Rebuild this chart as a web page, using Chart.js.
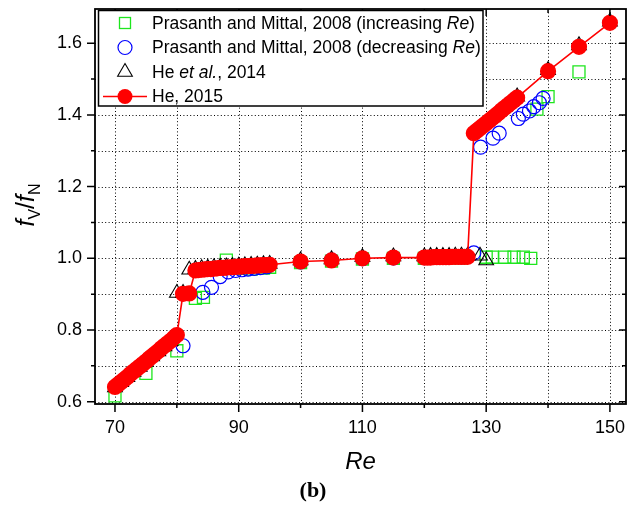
<!DOCTYPE html>
<html>
<head>
<meta charset="utf-8">
<script src="https://cdn.jsdelivr.net/npm/chart.js@4.4.0/dist/chart.umd.min.js"></script>
<style>
  html, body { margin: 0; padding: 0; background: #fff; }
  #wrap { width: 629px; height: 510px; }
</style>
</head>
<body>
<div id="wrap"><canvas id="c" width="629" height="510"></canvas></div>
<script>
// Prasanth and Mittal, 2008 - increasing Re branch
const reInc = [70, 75, 80, 83, 84.3, 88, 90, 92, 94, 95, 100, 105, 110, 115, 120, 122, 124, 126,
               130, 131, 133, 134.5, 136, 137.2, 138.2, 140, 145];
const fInc  = [0.616, 0.679, 0.742, 0.888, 0.891, 0.995, 0.972, 0.970, 0.973, 0.975, 0.988, 0.992, 0.998, 1.000,
               1.000, 1.001, 1.001, 1.001, 1.003, 1.003, 1.003, 1.003, 1.003, 1.000, 1.416, 1.451, 1.520];

// Prasanth and Mittal, 2008 - decreasing Re branch
const reDec = [81, 84.2, 85.6, 87, 88.3, 89.5, 90.5, 91.5, 92.5, 93.5, 94.5, 100, 105, 110, 115, 120, 122, 124,
               126, 128, 129.1, 131.1, 132.1, 135.2, 136, 137, 137.7, 138.6, 139.2];
const fDec  = [0.756, 0.905, 0.919, 0.949, 0.962, 0.966, 0.968, 0.970, 0.972, 0.974, 0.976, 0.990, 0.995, 0.999,
               1.001, 1.002, 1.003, 1.003, 1.004, 1.015, 1.310, 1.335, 1.349, 1.390, 1.402, 1.411, 1.423, 1.434, 1.446];

// He et al., 2014
const reHe14 = [70, 71, 72, 73, 74, 75, 76, 77, 78, 79, 80, 81, 82, 83, 84, 85, 86, 87, 88, 89, 90, 91, 92, 93, 94, 95,
                100, 105, 110, 115, 120, 121, 122, 123, 124, 125, 126, 127, 129, 130, 131, 132, 133, 134, 135, 140, 145, 150];
const fHe14  = [0.640, 0.654, 0.668, 0.683, 0.697, 0.711, 0.726, 0.740, 0.754, 0.769, 0.903, 0.903, 0.968,
                0.970, 0.972, 0.973, 0.975, 0.976, 0.977, 0.978, 0.979, 0.980, 0.981, 0.982, 0.983, 0.984,
                0.994, 0.997, 1.003, 1.005, 1.005, 1.006, 1.006, 1.006, 1.006, 1.007, 1.007, 1.007, 1.007, 0.994,
                1.393, 1.408, 1.422, 1.436, 1.451, 1.525, 1.594, 1.660];

// He, 2015
const reHe15 = [70, 70.5, 71, 71.5, 72, 72.5, 73, 73.5, 74, 74.5, 75, 75.5, 76, 76.5, 77, 77.5, 78, 78.5, 79, 79.5, 80,
                81, 82,
                83, 83.5, 84, 84.5, 85, 85.5, 86, 86.5, 87, 87.5, 88, 88.5, 89, 89.5, 90, 90.5, 91, 91.5, 92, 92.5, 93, 93.5, 94, 94.5, 95,
                100, 105, 110, 115,
                120, 120.5, 121, 121.5, 122, 122.5, 123, 123.5, 124, 124.5, 125, 125.5, 126, 126.5, 127,
                128, 128.5, 129, 129.5, 130, 130.5, 131, 131.5, 132, 132.5, 133, 133.5, 134, 134.5, 135,
                140, 145, 150];
const fHe15  = [0.641, 0.648, 0.655, 0.662, 0.669, 0.677, 0.684, 0.691, 0.698, 0.705, 0.712, 0.720, 0.727, 0.734, 0.741, 0.749, 0.756, 0.763, 0.770, 0.778, 0.786,
                0.901, 0.902,
                0.966, 0.967, 0.968, 0.969, 0.970, 0.970, 0.971, 0.972, 0.973, 0.973, 0.974, 0.975, 0.975, 0.976, 0.977, 0.977, 0.978, 0.978, 0.979, 0.979, 0.980, 0.980, 0.981, 0.981, 0.982,
                0.991, 0.994, 1.000, 1.002,
                1.002, 1.002, 1.002, 1.003, 1.003, 1.003, 1.003, 1.003, 1.003, 1.004, 1.004, 1.004, 1.004, 1.004, 1.004,
                1.349, 1.356, 1.363, 1.370, 1.377, 1.384, 1.391, 1.398, 1.405, 1.413, 1.420, 1.427, 1.434, 1.441, 1.448,
                1.522, 1.590, 1.657];

// Axis ticks and grid
const xTickLabels = [70, 90, 110, 130, 150];
const xGridValues = [70, 80, 90, 100, 110, 120, 130, 140, 150];
const yTickLabels = [0.6, 0.8, 1.0, 1.2, 1.4, 1.6];
const yGridValues = [0.6, 0.7, 0.8, 0.9, 1.0, 1.1, 1.2, 1.3, 1.4, 1.5, 1.6];

// Legend entries (segments with italic flags)
const legendLabels = [
  [['Prasanth and Mittal, 2008 (increasing ', false], ['Re', true], [')', false]],
  [['Prasanth and Mittal, 2008 (decreasing ', false], ['Re', true], [')', false]],
  [['He ', false], ['et al.', true], [', 2014', false]],
  [['He, 2015', false]]
];

const FONT = '"Liberation Sans", Arial, Helvetica, sans-serif';
const GREEN = '#1ee61e', BLUE = '#0000ff', BLACK = '#000000', RED = '#ff0000';

const pts = (xs, ys) => xs.map((v, i) => ({ x: v, y: ys[i] }));

// Draws a sequence of text segments, returns total width
function richText(ctx, parts, x, y, measureOnly) {
  let cx = x;
  for (const p of parts) {
    ctx.font = `${p.italic ? 'italic ' : ''}${p.size}px ${FONT}`;
    if (!measureOnly) ctx.fillText(p.t, cx, y + (p.dy || 0));
    cx += ctx.measureText(p.t).width;
  }
  return cx - x;
}

function marker(ctx, style, x, y) {
  ctx.save();
  ctx.setLineDash([]);
  if (style === 'square') {
    ctx.strokeStyle = GREEN; ctx.lineWidth = 1.3;
    ctx.strokeRect(x - 5.5, y - 5.5, 11, 11);
  } else if (style === 'circle') {
    ctx.strokeStyle = BLUE; ctx.lineWidth = 1.2;
    ctx.beginPath(); ctx.arc(x, y, 7, 0, Math.PI * 2); ctx.stroke();
  } else if (style === 'triangle') {
    const r = 8.5;
    ctx.strokeStyle = BLACK; ctx.lineWidth = 1.1;
    ctx.beginPath();
    for (let k = 0; k < 3; k++) {
      const a = k * 2 * Math.PI / 3;
      const px = x + Math.sin(a) * r, py = y - Math.cos(a) * r;
      k ? ctx.lineTo(px, py) : ctx.moveTo(px, py);
    }
    ctx.closePath(); ctx.stroke();
  } else if (style === 'line') {
    ctx.strokeStyle = RED; ctx.lineWidth = 1.6;
    ctx.beginPath(); ctx.moveTo(x - 22, y); ctx.lineTo(x + 22, y); ctx.stroke();
    ctx.fillStyle = RED;
    ctx.beginPath(); ctx.arc(x, y, 7.5, 0, Math.PI * 2); ctx.fill();
  }
  ctx.restore();
}

// Fixes a scale's box size and drops the label-overflow padding
function fixBox(s, w, h) {
  if (w !== null) s.width = w;
  if (h !== null) s.height = h;
  s.paddingLeft = 0; s.paddingRight = 0; s.paddingTop = 0; s.paddingBottom = 0;
}

// Dotted grid, plot frame with ticks, y-axis title and the boxed legend
const decorations = {
  id: 'decorations',
  beforeDatasetsDraw(chart) {
    const { ctx, chartArea: a, scales: { x, y } } = chart;
    ctx.save();
    ctx.strokeStyle = '#000';
    ctx.lineWidth = 1;
    ctx.setLineDash([1, 2.4]);
    for (const v of xGridValues) {
      const px = Math.round(x.getPixelForValue(v)) + 0.5;
      ctx.beginPath(); ctx.moveTo(px, a.top); ctx.lineTo(px, a.bottom); ctx.stroke();
    }
    for (const v of yGridValues) {
      const py = Math.round(y.getPixelForValue(v)) + 0.5;
      ctx.beginPath(); ctx.moveTo(a.left, py); ctx.lineTo(a.right, py); ctx.stroke();
    }
    ctx.restore();
  },
  afterDatasetsDraw(chart) {
    const { ctx, chartArea: a, scales: { x, y } } = chart;
    ctx.save();
    ctx.setLineDash([]);
    ctx.strokeStyle = '#000';
    ctx.lineWidth = 1.8;
    ctx.strokeRect(a.left, a.top, a.right - a.left, a.bottom - a.top);

    ctx.lineWidth = 1.5;
    ctx.beginPath();
    for (const v of xGridValues) {
      const px = x.getPixelForValue(v);
      const major = xTickLabels.includes(v);
      ctx.moveTo(px, a.bottom); ctx.lineTo(px, a.bottom + (major ? 8 : 4));
      ctx.moveTo(px, a.top); ctx.lineTo(px, a.top + (major ? 7 : 4));
    }
    for (const v of yGridValues) {
      const py = y.getPixelForValue(v);
      const major = yTickLabels.some(t => Math.abs(t - v) < 1e-9);
      ctx.moveTo(a.left, py); ctx.lineTo(a.left - (major ? 8 : 4), py);
      ctx.moveTo(a.right, py); ctx.lineTo(a.right - (major ? 7 : 4), py);
    }
    ctx.stroke();

    // y-axis title: f_V / f_N, rotated
    const titleParts = [
      { t: 'f', italic: true, size: 25 },
      { t: 'V', italic: false, size: 16, dy: 6 },
      { t: '/', italic: false, size: 25 },
      { t: 'f', italic: true, size: 25 },
      { t: 'N', italic: false, size: 16, dy: 6 }
    ];
    ctx.fillStyle = '#000';
    ctx.textBaseline = 'alphabetic';
    ctx.translate(34, 205);
    ctx.rotate(-Math.PI / 2);
    const tw = richText(ctx, titleParts, 0, 0, true);
    richText(ctx, titleParts, -tw / 2, 0, false);
    ctx.restore();

    // legend
    ctx.save();
    const box = { l: 98.5, t: 10.5, r: 483, b: 106 };
    ctx.fillStyle = '#fff';
    ctx.fillRect(box.l, box.t, box.r - box.l, box.b - box.t);
    ctx.strokeStyle = '#000';
    ctx.lineWidth = 1.5;
    ctx.strokeRect(box.l, box.t, box.r - box.l, box.b - box.t);
    const styles = ['square', 'circle', 'triangle', 'line'];
    const rows = [23, 47.5, 72, 96.5];
    ctx.fillStyle = '#000';
    ctx.textBaseline = 'middle';
    legendLabels.forEach((segs, i) => {
      marker(ctx, styles[i], 125, rows[i]);
      ctx.fillStyle = '#000';
      richText(ctx, segs.map(s => ({ t: s[0], italic: s[1], size: 17.5 })), 152, rows[i] + 1, false);
    });
    ctx.restore();
  }
};

new Chart(document.getElementById('c'), {
  type: 'scatter',
  data: {
    datasets: [
      {
        label: 'Prasanth and Mittal, 2008 (increasing Re)',
        data: pts(reInc, fInc),
        pointStyle: 'rect', pointRadius: 8.5, borderColor: GREEN, backgroundColor: 'rgba(0,0,0,0)',
        borderWidth: 1.3, order: 4
      },
      {
        label: 'Prasanth and Mittal, 2008 (decreasing Re)',
        data: pts(reDec, fDec),
        pointStyle: 'circle', pointRadius: 7, borderColor: BLUE, backgroundColor: 'rgba(0,0,0,0)',
        borderWidth: 1.2, order: 3
      },
      {
        label: 'He et al., 2014',
        data: pts(reHe14, fHe14),
        pointStyle: 'triangle', pointRadius: 8.5, borderColor: BLACK, backgroundColor: 'rgba(0,0,0,0)',
        borderWidth: 1.1, order: 2
      },
      {
        label: 'He, 2015',
        data: pts(reHe15, fHe15),
        showLine: true, tension: 0,
        pointStyle: 'circle', pointRadius: 7.3, borderColor: RED, backgroundColor: RED,
        pointBorderColor: RED, pointBackgroundColor: RED,
        borderWidth: 1.6, order: 1
      }
    ]
  },
  options: {
    responsive: false,
    animation: false,
    devicePixelRatio: 1,
    layout: { autoPadding: false, padding: { top: 9, right: 3, left: 0, bottom: 0 } },
    plugins: {
      legend: { display: false },
      tooltip: { enabled: false },
      title: {
        display: true, position: 'bottom', text: '(b)', color: '#000',
        font: { family: '"Liberation Serif", "Times New Roman", serif', size: 22, weight: 'bold', lineHeight: 1.2 },
        padding: { top: 4, bottom: 5 }
      }
    },
    scales: {
      x: {
        type: 'linear', position: 'bottom',
        min: 66.77, max: 152.6,
        afterBuildTicks: s => { s.ticks = xTickLabels.map(v => ({ value: v })); },
        afterFit: s => fixBox(s, null, 106 - 35.4),
        grid: { display: false, drawTicks: false },
        border: { display: false },
        ticks: { color: '#000', font: { family: FONT, size: 18 }, padding: 13, maxRotation: 0, autoSkip: false,
                 callback: v => String(v) },
        title: { display: true, text: 'Re', color: '#000',
                 font: { family: FONT, size: 24, style: 'italic', lineHeight: 1.0 }, padding: { top: 0, bottom: 0 } }
      },
      y: {
        type: 'linear', position: 'left',
        min: 0.5935, max: 1.6955,
        afterBuildTicks: s => { s.ticks = yTickLabels.map(v => ({ value: v })); },
        afterFit: s => fixBox(s, 95, null),
        grid: { display: false, drawTicks: false },
        border: { display: false },
        ticks: { color: '#000', font: { family: FONT, size: 18 }, padding: 13, autoSkip: false,
                 callback: v => Number(v).toFixed(1) }
      }
    }
  },
  plugins: [decorations]
});
</script>
</body>
</html>
